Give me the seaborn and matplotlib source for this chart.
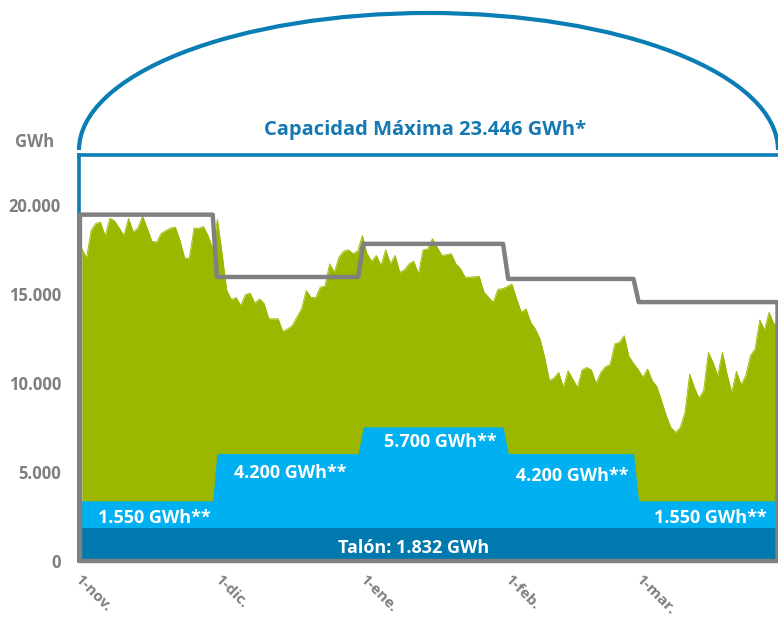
import numpy as np
import pandas as pd
import matplotlib
matplotlib.use("Agg")
import matplotlib.pyplot as plt
import matplotlib.transforms as mtransforms
from matplotlib.patches import Arc
import seaborn as sns

# ---------------- data ----------------
stock_gwh = [
    17550, 17010, 18560, 18960, 19020, 18250, 19240, 19100, 18700, 18280,
    19240, 18470, 18700, 19370, 18680, 17950, 17910, 18400, 18560, 18700,
    18750, 18000, 17010, 17010, 18700, 18680, 18790, 18280, 17550, 19180,
    17270, 15190, 14680, 14800, 14350, 14960, 15040, 14480, 14720, 14460,
    13600, 13600, 13600, 12880, 13030, 13220, 13690, 14160, 15190, 14810,
    14780, 15380, 15430, 16690, 16220, 17060, 17400, 17480, 17260, 17400,
    18280, 17260, 16840, 17160, 16600, 17480, 16690, 17160, 16220, 16350,
    16690, 16840, 16130, 17480, 17530, 18100, 17630, 17160, 17200, 17260,
    16690, 16410, 15940, 15940, 15960, 15980, 15100, 14810, 14530, 15260,
    15290, 15420, 15550, 14720, 13970, 14160, 13410, 13030, 12470, 11440,
    10130, 10280, 10590, 9750, 10690, 10220, 9750, 10730, 10870, 10730,
    9970, 10590, 10910, 11030, 12190, 12280, 12660, 11500, 11100, 10750,
    10330, 10780, 10130, 9790, 9000, 8160, 7500, 7220, 7500, 8340,
    10500, 9750, 9150, 9560, 11720, 11160, 10410, 11720, 10500, 9470,
    10650, 9900, 10410, 11530, 11910, 13540, 12980, 13970, 13320, 13320,
]
days = np.arange(len(stock_gwh))

# upper operating limit (grey envelope)
limit_days = [-0.4, -0.4, 28.0, 28.9, 59.1, 60.2, 90.1, 91.2, 118.0, 119.1, 148.8, 148.8, -0.4]
limit_vals = [0, 19450, 19450, 15950, 15950, 17810, 17810, 15840, 15840, 14540, 14540, 0, 0]

# seasonal minimum reserve (light blue), on top of the base (talon)
season_days = [-0.6, 28.0, 28.9, 59.1, 60.2, 90.1, 91.2, 118.0, 119.1, 148.9]
season_vals = [1550, 1550, 4200, 4200, 5700, 5700, 4200, 4200, 1550, 1550]
talon_gwh = 1832

month_ticks = [0, 30, 61, 92, 120]
month_labels = ["1-nov.", "1-dic.", "1-ene.", "1-feb.", "1-mar."]
y_ticks = [0, 5000, 10000, 15000, 20000]
y_labels = ["0", "5.000", "10.000", "15.000", "20.000"]

title_text = "Capacidad Máxima 23.446 GWh*"
season_texts = ["1.550 GWh**", "4.200 GWh**", "5.700 GWh**", "4.200 GWh**", "1.550 GWh**"]
talon_text = "Talón: 1.832 GWh"

# ---------------- style ----------------
sns.set_theme(style="white")
plt.rcParams["font.family"] = ["Open Sans", "DejaVu Sans"]

GREEN = "#9BB700"
LBLUE = "#00B0F0"
DBLUE = "#0079AF"
FRAME = "#0A7DB5"
GREY = "#808080"
TXTGREY = "#7F7F7F"

fig = plt.figure(figsize=(7.78, 6.17), dpi=100)
ax = fig.add_axes([79 / 778, 1 - 561 / 617, 699 / 778, 406 / 617])

df = pd.DataFrame({"day": days, "stock": stock_gwh})
ax.fill_between(df["day"], 0, df["stock"], color=GREEN, lw=0, zorder=1)
sns.lineplot(data=df, x="day", y="stock", color=GREEN, lw=0.6, ax=ax, zorder=1.5)

season_top = np.array(season_vals) + talon_gwh
ax.fill_between(season_days, 0, season_top, color=LBLUE, lw=0, zorder=2)
ax.fill_between([season_days[0], season_days[-1]], 0, talon_gwh, color=DBLUE, lw=0, zorder=3)

lim_df = pd.DataFrame({"day": limit_days, "val": limit_vals})
sns.lineplot(data=lim_df, x="day", y="val", sort=False, estimator=None,
             color=GREY, lw=3.2, ax=ax, zorder=4, clip_on=False)

ax.set_xlim(-0.6, 148.9)
ax.set_ylim(0, 22800)
ax.set_xlabel("")
ax.set_ylabel("")

# ticks
ax.set_yticks(y_ticks)
ax.set_yticklabels(y_labels, fontsize=12, fontweight="bold", color=TXTGREY)
ax.tick_params(axis="y", length=0, pad=13)
ax.set_xticks(month_ticks)
ax.set_xticklabels(month_labels, fontsize=11, fontweight="bold", color=TXTGREY,
                   rotation=-45, ha="left", va="top")
ax.tick_params(axis="x", length=0, pad=8)
offset = mtransforms.ScaledTranslation(-10 / 100, 0, fig.dpi_scale_trans)
for lab in ax.get_xticklabels():
    lab.set_transform(lab.get_transform() + offset)

# frame
for s in ["left", "top"]:
    ax.spines[s].set_color(FRAME)
    ax.spines[s].set_linewidth(2.6)
ax.spines["right"].set_visible(False)
ax.spines["bottom"].set_color("#9fd3ea")
ax.spines["bottom"].set_linewidth(1.0)

# arc above the frame
arc = Arc((0.5, 1.0123), width=1.0, height=0.675, theta1=0, theta2=180,
          transform=ax.transAxes, color=FRAME, lw=3.0, clip_on=False, zorder=5)
ax.add_patch(arc)

ax.text(0.495, 1.062, title_text, transform=ax.transAxes, ha="center", va="center",
        fontsize=14.5, fontweight="bold", color="#1479B0")
fig.text(35 / 778, 1 - 142 / 617, "GWh", ha="center", va="center",
         fontsize=12, fontweight="bold", color=TXTGREY)

# band labels
txt_kw = dict(ha="center", va="center", fontsize=13, fontweight="bold", color="white", zorder=6)
ax.text(15.6, 2420, season_texts[0], **txt_kw)
ax.text(44.5, 4950, season_texts[1], **txt_kw)
ax.text(76.7, 6690, season_texts[2], **txt_kw)
ax.text(104.9, 4800, season_texts[3], **txt_kw)
ax.text(134.5, 2420, season_texts[4], **txt_kw)
ax.text(70.9, 730, talon_text, **txt_kw)

fig.savefig("out.png", dpi=100)
